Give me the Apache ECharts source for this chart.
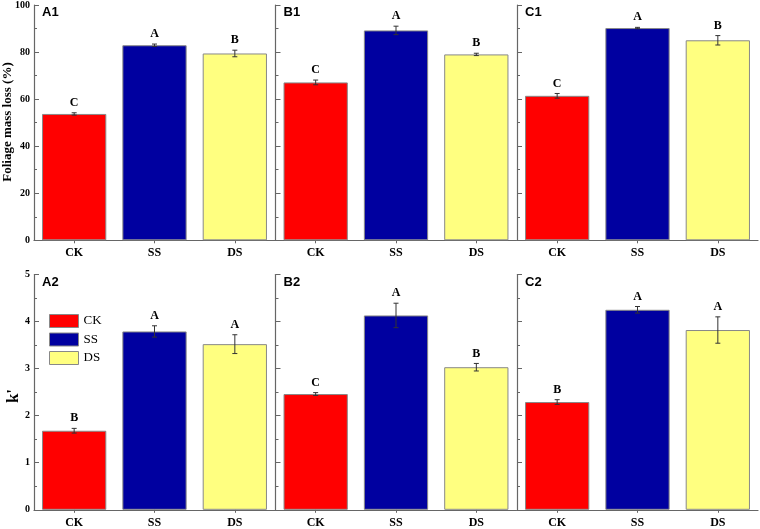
<!DOCTYPE html>
<html><head><meta charset="utf-8">
<script src="https://cdn.jsdelivr.net/npm/echarts@6/dist/echarts.min.js"></script>
<style>html,body{margin:0;padding:0;background:#fff}#c{width:760px;height:529px}</style>
</head><body><div id="c"></div>
<script>
const categories = ['CK', 'SS', 'DS'];
const panelNames = ['A1', 'B1', 'C1', 'A2', 'B2', 'C2'];
// Foliage mass loss (%)
const lossA1 = [53.7, 82.9, 79.4];
const lossA1Err = [0.5, 0.5, 1.4];
const lossA1Letters = ['C', 'A', 'B'];
const lossB1 = [67.1, 89.2, 79.0];
const lossB1Err = [1.0, 1.8, 0.5];
const lossB1Letters = ['C', 'A', 'B'];
const lossC1 = [61.4, 90.2, 85.0];
const lossC1Err = [1.0, 0.3, 2.0];
const lossC1Letters = ['C', 'A', 'B'];
// k'
const kA2 = [1.68, 3.79, 3.52];
const kA2Err = [0.05, 0.12, 0.20];
const kA2Letters = ['B', 'A', 'A'];
const kB2 = [2.46, 4.13, 3.03];
const kB2Err = [0.03, 0.26, 0.08];
const kB2Letters = ['C', 'A', 'B'];
const kC2 = [2.29, 4.25, 3.82];
const kC2Err = [0.05, 0.07, 0.28];
const kC2Letters = ['B', 'A', 'A'];
const topTicks = {min: 0, max: 100, interval: 20};
const bottomTicks = {min: 0, max: 5, interval: 1};

const colors = {CK: '#ff0000', SS: '#0000a0', DS: '#ffff80'};
const panels = [
  {v: lossA1, e: lossA1Err, l: lossA1Letters, ax: topTicks},
  {v: lossB1, e: lossB1Err, l: lossB1Letters, ax: topTicks},
  {v: lossC1, e: lossC1Err, l: lossC1Letters, ax: topTicks},
  {v: kA2, e: kA2Err, l: kA2Letters, ax: bottomTicks},
  {v: kB2, e: kB2Err, l: kB2Letters, ax: bottomTicks},
  {v: kC2, e: kC2Err, l: kC2Letters, ax: bottomTicks}
];
const lefts = [34, 275.5, 517];
const W = 241;
const tops = [5, 274.5];
const H = 235.3;
const serif = '"Liberation Serif", "Times New Roman", serif';
const sans = '"Liberation Sans", Arial, sans-serif';
const axisColor = '#666';

const grid = [], xAxis = [], yAxis = [], series = [], graphic = [];
panels.forEach((p, i) => {
  const col = i % 3, row = Math.floor(i / 3);
  grid.push({left: lefts[col], top: tops[row], width: W, height: H, containLabel: false});
  xAxis.push({
    type: 'category', gridIndex: i, data: categories,
    axisLine: {lineStyle: {color: axisColor, width: 1.2}},
    axisTick: {show: true, alignWithLabel: true, length: 3, lineStyle: {color: axisColor}},
    axisLabel: {fontFamily: serif, fontWeight: 'bold', fontSize: 12, color: '#000', margin: 7}
  });
  yAxis.push({
    type: 'value', gridIndex: i, min: p.ax.min, max: p.ax.max, interval: p.ax.interval,
    axisLine: {show: true, lineStyle: {color: axisColor, width: 1.2}},
    axisTick: {show: true, inside: true, length: 5, lineStyle: {color: axisColor}},
    minorTick: {show: true, splitNumber: 2, length: 3, lineStyle: {color: axisColor}},
    splitLine: {show: false},
    axisLabel: {show: col === 0, fontFamily: serif, fontWeight: 'bold', fontSize: 10, color: '#000', margin: 4}
  });
  categories.forEach((c, k) => {
    series.push({
      name: c, type: 'bar', xAxisIndex: i, yAxisIndex: i,
      barWidth: '80%', barGap: '-100%',
      data: p.v.map((v, j) => j === k ? v : '-'),
      itemStyle: {color: colors[c], borderColor: '#888', borderWidth: 1},
      silent: true
    });
  });
  series.push({
    type: 'custom', xAxisIndex: i, yAxisIndex: i, silent: true, z: 10,
    data: p.v.map((v, j) => [j, v, p.e[j], p.l[j]]),
    renderItem: function (params, api) {
      const x = api.coord([api.value(0), 0])[0];
      const y1 = api.coord([0, api.value(1) + api.value(2)])[1];
      const y2 = api.coord([0, api.value(1) - api.value(2)])[1];
      const s = {stroke: '#333', lineWidth: 1};
      return {type: 'group', children: [
        {type: 'line', shape: {x1: x, y1: y1, x2: x, y2: y2}, style: s},
        {type: 'line', shape: {x1: x - 2.5, y1: y1, x2: x + 2.5, y2: y1}, style: s},
        {type: 'line', shape: {x1: x - 2.5, y1: y2, x2: x + 2.5, y2: y2}, style: s},
        {type: 'text', style: {text: api.value(3), x: x, y: y1 - 4, textAlign: 'center', textVerticalAlign: 'bottom',
          font: 'bold 12px ' + serif, fill: '#000'}}
      ]};
    }
  });
  graphic.push({type: 'text', left: lefts[col] + 8, top: tops[row] + 1,
    style: {text: panelNames[i], font: 'bold 13px ' + sans, fill: '#000'}});
});

graphic.push({type: 'text', x: 8, y: 122, rotation: Math.PI / 2, originX: 0, originY: 0,
  style: {text: 'Foliage mass loss (%)', font: 'bold 13px ' + serif, fill: '#000', textAlign: 'center', textVerticalAlign: 'middle'}});
graphic.push({type: 'text', x: 14, y: 396, rotation: Math.PI / 2,
  style: {text: "k'", font: 'bold 17px ' + serif, fill: '#000', textAlign: 'center', textVerticalAlign: 'middle'}});

const chart = echarts.init(document.getElementById('c'), null, {renderer: 'canvas'});
chart.setOption({
  animation: false,
  grid, xAxis, yAxis, series, graphic,
  legend: {
    data: categories, orient: 'vertical', left: 49, top: 314, padding: 0,
    itemWidth: 29, itemHeight: 13, itemGap: 4.5, icon: 'rect',
    textStyle: {fontFamily: serif, fontSize: 13, color: '#000', padding: [0, 0, 0, 0]},
    itemStyle: {borderColor: '#888', borderWidth: 1},
    selectedMode: false
  }
});
</script></body></html>
